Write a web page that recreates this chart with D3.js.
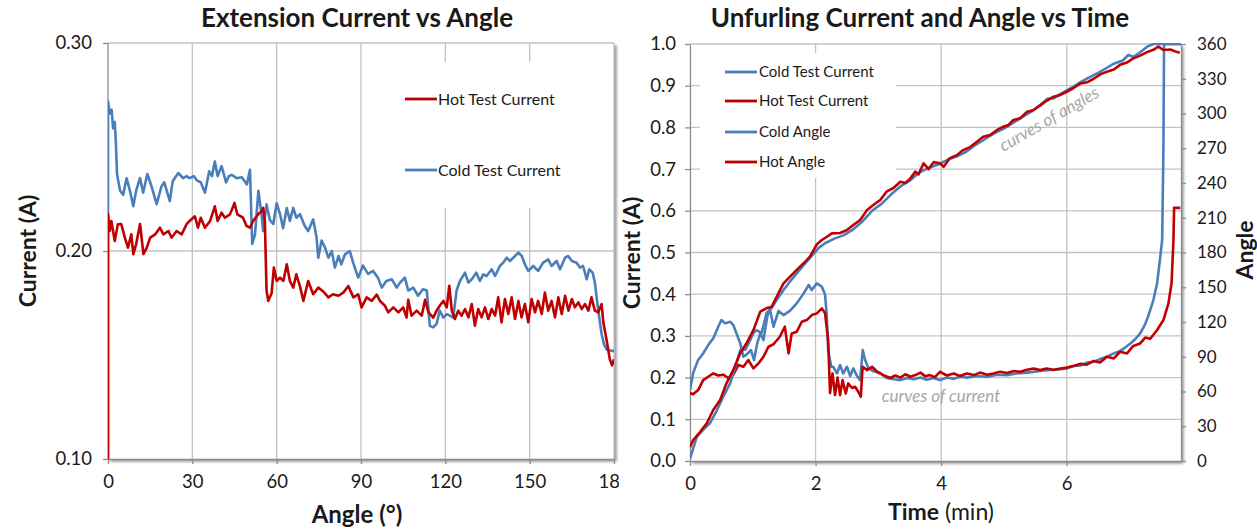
<!DOCTYPE html>
<html>
<head>
<meta charset="utf-8">
<script src="https://cdn.jsdelivr.net/npm/d3@7"></script>
<style>
body{margin:0;background:#fff;}
svg{font-family:Lato,"Open Sans",sans-serif;}
</style>
</head>
<body>
<svg width="1257" height="529"></svg>
<script>
// ---- left chart: extension current vs angle  [angle (deg), current (A)]
var extCold=[[0,0.100],[0,0.272],[0.6,0.266],[1.3,0.268],[1.8,0.259],[2.4,0.262],[2.8,0.252],[3.2,0.237],[4.3,0.229],[5.4,0.227],[6.6,0.235],[7.8,0.229],[9,0.2215],[10,0.229],[11.4,0.235],[12.5,0.228],[14,0.237],[15.5,0.231],[17.3,0.2225],[19,0.231],[20,0.233],[22,0.224],[23,0.2335],[25,0.2375],[26.7,0.235],[28,0.236],[29,0.235],[30.5,0.236],[31.6,0.234],[33,0.233],[34.5,0.228],[36,0.2383],[37,0.236],[38,0.243],[39,0.236],[40.4,0.2408],[42,0.233],[43,0.236],[44,0.2366],[45.8,0.235],[47.6,0.2355],[49.4,0.232],[50.5,0.239],[51.3,0.2034],[52.3,0.208],[53.5,0.229],[54.6,0.2177],[55.2,0.2096],[56.4,0.2225],[57.6,0.2148],[58.8,0.213],[60,0.223],[61.2,0.2177],[62.3,0.211],[63.6,0.2207],[64.7,0.2145],[65.9,0.2207],[67,0.216],[68.3,0.2177],[70,0.212],[71.2,0.2096],[73,0.2152],[74.2,0.2064],[74.8,0.1968],[76,0.205],[77.2,0.2016],[78.4,0.1968],[79.6,0.2],[80.7,0.192],[82,0.1976],[83,0.1936],[84.3,0.1984],[86,0.2],[87.2,0.1944],[89,0.1872],[90.7,0.193],[92.5,0.189],[94.3,0.1904],[96,0.1872],[97.4,0.1824],[99,0.1856],[101,0.1864],[102.7,0.1824],[103.9,0.1848],[105.6,0.1872],[106.8,0.181],[108.6,0.1824],[110.3,0.1785],[112,0.1816],[113.4,0.181],[114.5,0.164],[115.7,0.1633],[116.9,0.165],[118,0.1713],[119.3,0.168],[120.5,0.1697],[121.6,0.1689],[122.8,0.168],[124,0.181],[125.2,0.1856],[127,0.1896],[128.2,0.1848],[129.4,0.1864],[131,0.1896],[132.3,0.1856],[133.5,0.1888],[134.7,0.188],[136.5,0.1912],[137.7,0.188],[139.4,0.1928],[140.6,0.1944],[141.8,0.1968],[143,0.1952],[144.8,0.1976],[146,0.1992],[147.2,0.1976],[148.3,0.1936],[149.5,0.1904],[151.3,0.1928],[153,0.1904],[154.8,0.1944],[156.6,0.196],[157.8,0.1928],[159.6,0.1952],[160.8,0.1912],[162.6,0.1968],[163.7,0.1976],[165,0.1952],[166.7,0.1944],[167.9,0.192],[169,0.1928],[170.3,0.1864],[171.2,0.1912],[172.4,0.1896],[173.2,0.1848],[174.4,0.1713],[175.6,0.16],[176.5,0.155],[177.5,0.1525],[179,0.152],[180,0.152]];
var extHot=[[0,0.100],[0,0.218],[0.6,0.2096],[1.2,0.2144],[2.4,0.2048],[3.5,0.2128],[4.7,0.213],[6,0.2064],[7.1,0.2016],[8.3,0.208],[9,0.1985],[10,0.2032],[11.4,0.213],[12.6,0.1985],[13.8,0.2016],[15,0.2064],[16.8,0.208],[18.5,0.2112],[19.7,0.208],[21.5,0.2096],[22.6,0.2064],[24.4,0.2096],[26.2,0.208],[28,0.213],[29,0.2144],[30.9,0.2167],[32,0.2112],[33,0.216],[34.5,0.2112],[36.3,0.2144],[38,0.2215],[39,0.2144],[40.4,0.2184],[41.6,0.216],[43.4,0.2176],[45,0.2231],[46,0.2176],[48,0.216],[49.3,0.212],[50.5,0.2112],[51.6,0.2144],[53.4,0.2176],[54.6,0.2191],[55.2,0.2208],[55.8,0.2144],[56.4,0.181],[57,0.176],[58.2,0.1797],[59,0.192],[60,0.1856],[61.2,0.1872],[62.4,0.1856],[63.6,0.1936],[64.7,0.1856],[65.9,0.1824],[67,0.1888],[68.3,0.183],[69.5,0.176],[71.2,0.1856],[73,0.1792],[74.8,0.1824],[76.6,0.1805],[78.4,0.1777],[80,0.1792],[82,0.1785],[83.7,0.18],[85.5,0.1832],[87.3,0.1777],[89,0.1792],[90.2,0.1729],[92,0.1777],[93.8,0.176],[95.6,0.179],[96.7,0.1761],[98.5,0.1737],[99.7,0.1705],[101.5,0.1729],[103.3,0.1705],[105,0.1729],[106.2,0.168],[106.8,0.1765],[108,0.1689],[109.8,0.1713],[111.6,0.1689],[112.8,0.1765],[114,0.1705],[115.7,0.168],[116.9,0.1713],[118,0.1737],[119.3,0.176],[120.5,0.1729],[121.4,0.1833],[122.3,0.1713],[123.4,0.1673],[124.6,0.1713],[125.8,0.1689],[127,0.1721],[128.2,0.1681],[129.4,0.1745],[130.5,0.1641],[131.7,0.1721],[132.9,0.1681],[134.1,0.1729],[135.3,0.1673],[136.5,0.1721],[137.7,0.1689],[138.8,0.1777],[140,0.1657],[141.2,0.1769],[142.4,0.1697],[143.6,0.1777],[144.8,0.1673],[146,0.176],[147.1,0.1681],[148.3,0.1745],[149.5,0.1657],[150.7,0.1769],[151.9,0.1705],[153,0.176],[154.3,0.1697],[155.4,0.18],[156.6,0.1713],[157.8,0.176],[159,0.1681],[160.2,0.1777],[161.4,0.1697],[162.6,0.1785],[163.8,0.1713],[165,0.1769],[166.1,0.1729],[167.3,0.1753],[168.5,0.1721],[169.7,0.1745],[170.9,0.1713],[172,0.1777],[173.2,0.1713],[174.4,0.1705],[175.6,0.1745],[176.2,0.1657],[177.4,0.157],[178.5,0.148],[179.3,0.145],[180,0.148]];
var extTicksX=[0,30,60,90,120,150,180];
var extTicksY=[0.10,0.20,0.30];

// ---- right chart: unfurling current [min, A] and angle [min, deg]
var unfColdCurrent=[[0,0.17],[0.05,0.211],[0.13,0.242],[0.21,0.258],[0.29,0.278],[0.37,0.294],[0.45,0.322],[0.50,0.338],[0.56,0.33],[0.64,0.334],[0.69,0.326],[0.74,0.306],[0.80,0.282],[0.85,0.25],[0.90,0.255],[0.97,0.266],[1.02,0.242],[1.07,0.282],[1.12,0.306],[1.17,0.29],[1.23,0.346],[1.27,0.366],[1.33,0.322],[1.41,0.36],[1.49,0.35],[1.59,0.36],[1.70,0.378],[1.81,0.402],[1.89,0.422],[1.94,0.41],[2.02,0.426],[2.10,0.418],[2.15,0.40],[2.18,0.346],[2.20,0.266],[2.25,0.226],[2.28,0.226],[2.34,0.21],[2.39,0.23],[2.44,0.21],[2.50,0.226],[2.55,0.204],[2.60,0.222],[2.66,0.204],[2.71,0.194],[2.75,0.266],[2.79,0.242],[2.84,0.223],[2.92,0.215],[3.03,0.211],[3.13,0.199],[3.25,0.196],[3.35,0.194],[3.46,0.199],[3.56,0.196],[3.67,0.2],[3.77,0.195],[3.88,0.199],[3.98,0.194],[4.1,0.2],[4.20,0.197],[4.3,0.202],[4.41,0.2],[4.57,0.204],[4.73,0.202],[4.9,0.207],[5.05,0.206],[5.2,0.21],[5.37,0.212],[5.52,0.215],[5.68,0.218],[5.84,0.219],[6.0,0.222],[6.1,0.228],[6.22,0.229],[6.32,0.236],[6.43,0.238],[6.54,0.245],[6.64,0.25],[6.75,0.258],[6.85,0.264],[6.93,0.272],[7.01,0.281],[7.09,0.292],[7.17,0.306],[7.24,0.325],[7.30,0.348],[7.38,0.386],[7.44,0.427],[7.49,0.49],[7.52,0.53],[7.54,0.75],[7.55,1.0],[7.82,1.0]];
var unfHotCurrent=[[0,0.163],[0.05,0.16],[0.13,0.17],[0.21,0.194],[0.29,0.202],[0.37,0.21],[0.45,0.205],[0.53,0.207],[0.61,0.199],[0.69,0.207],[0.77,0.23],[0.85,0.226],[0.93,0.242],[1.01,0.222],[1.09,0.234],[1.17,0.25],[1.25,0.274],[1.33,0.28],[1.43,0.298],[1.51,0.322],[1.57,0.258],[1.62,0.306],[1.70,0.31],[1.78,0.334],[1.86,0.338],[1.94,0.35],[2.02,0.354],[2.10,0.366],[2.15,0.355],[2.20,0.29],[2.23,0.163],[2.27,0.21],[2.31,0.158],[2.35,0.2],[2.39,0.158],[2.43,0.194],[2.48,0.162],[2.52,0.186],[2.58,0.175],[2.63,0.178],[2.68,0.166],[2.72,0.154],[2.75,0.226],[2.82,0.218],[2.90,0.226],[2.98,0.214],[3.08,0.206],[3.19,0.199],[3.27,0.205],[3.35,0.2],[3.43,0.208],[3.51,0.202],[3.59,0.206],[3.67,0.212],[3.75,0.203],[3.82,0.206],[3.9,0.201],[3.98,0.214],[4.09,0.205],[4.2,0.21],[4.3,0.204],[4.41,0.21],[4.52,0.206],[4.62,0.212],[4.73,0.207],[4.83,0.21],[4.94,0.214],[5.05,0.211],[5.16,0.216],[5.26,0.214],[5.37,0.219],[5.47,0.222],[5.58,0.218],[5.68,0.222],[5.79,0.219],[5.90,0.222],[6.0,0.224],[6.11,0.228],[6.22,0.233],[6.32,0.231],[6.43,0.24],[6.53,0.236],[6.64,0.25],[6.75,0.246],[6.85,0.262],[6.96,0.258],[7.06,0.276],[7.17,0.282],[7.25,0.296],[7.33,0.293],[7.44,0.314],[7.54,0.338],[7.62,0.378],[7.67,0.427],[7.70,0.53],[7.71,0.607],[7.81,0.607]];
var unfColdAngle=[[0,2],[0.11,21],[0.21,26.8],[0.32,32.8],[0.43,44],[0.53,55.5],[0.64,67],[0.74,84.5],[0.80,95.8],[0.88,96],[0.96,104.5],[1.01,110.5],[1.06,113],[1.14,110.5],[1.22,127.8],[1.30,132],[1.38,139],[1.49,147.6],[1.59,154.8],[1.70,162],[1.81,169],[1.97,179],[2.05,184],[2.15,188],[2.3,192],[2.45,195],[2.6,200],[2.75,207],[2.9,216],[3.05,222],[3.2,230],[3.35,237],[3.5,242],[3.65,249],[3.8,253],[3.95,256],[4.1,260],[4.25,263],[4.4,267],[4.55,273],[4.7,278],[4.85,283],[5.0,287],[5.15,292],[5.3,297],[5.45,302],[5.58,307.5],[5.7,313],[5.79,313],[5.9,317],[6.0,320],[6.1,323],[6.22,327],[6.35,331],[6.5,335],[6.64,339.5],[6.75,343],[6.9,346],[6.98,350.5],[7.06,349],[7.15,352],[7.28,357.7],[7.38,360],[7.82,360]];
var unfHotAngle=[[0,12],[0.05,18],[0.16,25],[0.27,32.8],[0.37,44],[0.48,52.7],[0.58,67],[0.69,78.6],[0.80,93],[0.90,101.6],[1.01,113],[1.12,129],[1.22,132],[1.30,133],[1.38,141.8],[1.49,153.4],[1.59,159],[1.70,165],[1.81,170.7],[1.91,176.4],[2.02,187],[2.10,190.8],[2.18,193.6],[2.26,196.5],[2.39,196.8],[2.50,199.4],[2.60,203.7],[2.71,208],[2.82,216.7],[2.92,221],[3.03,225.3],[3.13,232.5],[3.24,235.7],[3.35,241],[3.43,240],[3.51,244],[3.59,249.8],[3.64,247.5],[3.67,251],[3.72,257],[3.80,252],[3.88,258],[3.98,257],[4.04,254],[4.14,261.5],[4.25,264],[4.35,268.4],[4.46,271],[4.57,275.6],[4.67,280],[4.78,281.4],[4.89,285.8],[4.99,288.6],[5.07,290],[5.15,294.4],[5.26,296],[5.37,301.6],[5.47,303],[5.58,307],[5.68,311],[5.79,314.5],[5.9,316],[6.0,318.8],[6.11,322],[6.22,326],[6.33,327],[6.43,330],[6.54,334],[6.64,336],[6.75,338],[6.85,342],[6.96,344],[7.06,347.6],[7.17,350],[7.28,353],[7.38,355],[7.46,357.7],[7.54,354.8],[7.65,355.2],[7.76,353],[7.80,352.5]];
var unfTicksX=[0,2,4,6];
var unfTicksY=[0,0.1,0.2,0.3,0.4,0.5,0.6,0.7,0.8,0.9,1.0];
var unfTicksA=[0,30,60,90,120,150,180,210,240,270,300,330,360];

var BLUE='#4a7ebb', RED='#c00000', GRID='#c3c3c3', AXIS='#8c8c8c', TXT='#1a1a1a';

var svg=d3.select('svg');
var defs=svg.append('defs');
var f=defs.append('filter').attr('id','shadow').attr('x','-5%').attr('y','-5%').attr('width','110%').attr('height','110%');
f.append('feDropShadow').attr('dx',2.5).attr('dy',2.5).attr('stdDeviation',1.5).attr('flood-color','#000').attr('flood-opacity',0.45);
defs.append('clipPath').attr('id','leftclip').append('rect').attr('x',0).attr('y',0).attr('width',619).attr('height',529);
defs.append('clipPath').attr('id','lplot').append('rect').attr('x',108).attr('y',43).attr('width',506).attr('height',416);
defs.append('clipPath').attr('id','rplot').append('rect').attr('x',690).attr('y',43).attr('width',491).attr('height',418);

function styleAxis(g,size){
  g.select('.domain').attr('stroke',AXIS).attr('stroke-width',1.3);
  g.selectAll('.tick line').attr('stroke',AXIS).attr('stroke-width',1.3);
  g.selectAll('.tick text').attr('fill',TXT).style('font-size',size+'px').style('font-family','Lato,"Open Sans",sans-serif');
}
function addLine(g,data,x,y,color){
  g.append('path').datum(data)
    .attr('d',d3.line().x(function(d){return x(d[0]);}).y(function(d){return y(d[1]);}))
    .attr('fill','none').attr('stroke',color).attr('stroke-width',2.6)
    .attr('stroke-linejoin','round');
}

// ================= left chart =================
var left=svg.append('g').attr('clip-path','url(#leftclip)');
var xL=d3.scaleLinear().domain([0,180]).range([108,614]);
var yL=d3.scaleLinear().domain([0.10,0.30]).range([459,43]);

left.append('rect').attr('x',108).attr('y',43).attr('width',506).attr('height',416)
  .attr('fill','#fff').attr('filter','url(#shadow)');
left.append('g').selectAll('line').data(extTicksX.slice(1)).enter().append('line')
  .attr('x1',function(d){return xL(d);}).attr('x2',function(d){return xL(d);})
  .attr('y1',43).attr('y2',459).attr('stroke',GRID).attr('stroke-width',1.3);
left.append('g').selectAll('line').data(extTicksY.slice(1)).enter().append('line')
  .attr('x1',108).attr('x2',614)
  .attr('y1',function(d){return yL(d);}).attr('y2',function(d){return yL(d);})
  .attr('stroke',GRID).attr('stroke-width',1.3);

// legend box hides gridlines
left.append('rect').attr('x',393).attr('y',62).attr('width',212).attr('height',146).attr('fill','#fff');

var lax=left.append('g').attr('transform','translate(0,459)')
  .call(d3.axisBottom(xL).tickValues(extTicksX).tickFormat(d3.format('d')).tickSize(5).tickSizeOuter(0).tickPadding(11));
styleAxis(lax,18.5);
var lay=left.append('g').attr('transform','translate(108,0)')
  .call(d3.axisLeft(yL).tickValues(extTicksY).tickFormat(d3.format('.2f')).tickSize(5).tickSizeOuter(0).tickPadding(11));
styleAxis(lay,18.5);
lay.select('.domain').remove();
left.append('line').attr('x1',108).attr('x2',108).attr('y1',43).attr('y2',459).attr('stroke',AXIS).attr('stroke-width',1.3);

var lplot=left.append('g').attr('clip-path','url(#lplot)');
addLine(lplot,extCold,xL,yL,BLUE);
addLine(lplot,extHot,xL,yL,RED);

var lleg=left.append('g');
[['Hot Test Current',RED,99],['Cold Test Current',BLUE,170]].forEach(function(it){
  lleg.append('line').attr('x1',405).attr('x2',437).attr('y1',it[2]).attr('y2',it[2]).attr('stroke',it[1]).attr('stroke-width',2.8);
  lleg.append('text').attr('x',438).attr('y',it[2]).attr('dy','0.35em').attr('fill',TXT).style('font-size','16px').text(it[0]);
});

left.append('text').attr('x',357).attr('y',27).attr('text-anchor','middle').attr('fill',TXT)
  .style('font-size','26px').style('font-weight','bold').text('Extension Current vs Angle');
left.append('text').attr('x',357).attr('y',523).attr('text-anchor','middle').attr('fill',TXT)
  .style('font-size','24px').style('font-weight','bold').text('Angle (°)');
left.append('text').attr('transform','translate(28,251) rotate(-90)').attr('text-anchor','middle').attr('dy','0.35em').attr('fill',TXT)
  .style('font-size','23px').style('font-weight','bold').text('Current (A)');

// ================= right chart =================
var right=svg.append('g');
var xR=d3.scaleLinear().domain([0,7.82]).range([690,1181]);
var yR=d3.scaleLinear().domain([0,1]).range([461,44]);
var yA=d3.scaleLinear().domain([0,360]).range([461,44]);

right.append('rect').attr('x',690).attr('y',44).attr('width',491).attr('height',417)
  .attr('fill','#fff').attr('filter','url(#shadow)');
right.append('g').selectAll('line').data(unfTicksX.slice(1)).enter().append('line')
  .attr('x1',function(d){return xR(d);}).attr('x2',function(d){return xR(d);})
  .attr('y1',44).attr('y2',461).attr('stroke',GRID).attr('stroke-width',1.3);
right.append('g').selectAll('line').data(unfTicksY.slice(1)).enter().append('line')
  .attr('x1',690).attr('x2',1181)
  .attr('y1',function(d){return yR(d);}).attr('y2',function(d){return yR(d);})
  .attr('stroke',GRID).attr('stroke-width',1.3);

right.append('rect').attr('x',700).attr('y',53).attr('width',196).attr('height',125).attr('fill','#fff');

var rax=right.append('g').attr('transform','translate(0,461)')
  .call(d3.axisBottom(xR).tickValues(unfTicksX).tickFormat(d3.format('d')).tickSize(5).tickSizeOuter(0).tickPadding(11));
styleAxis(rax,18.5);
var ray=right.append('g').attr('transform','translate(690,0)')
  .call(d3.axisLeft(yR).tickValues(unfTicksY).tickFormat(d3.format('.1f')).tickSize(5).tickSizeOuter(0).tickPadding(9));
styleAxis(ray,18.5);
var raa=right.append('g').attr('transform','translate(1181,0)')
  .call(d3.axisRight(yA).tickValues(unfTicksA).tickFormat(d3.format('d')).tickSize(5).tickSizeOuter(0).tickPadding(11));
styleAxis(raa,17);

var rplot=right.append('g').attr('clip-path','url(#rplot)');
addLine(rplot,unfColdCurrent,xR,yR,BLUE);
addLine(rplot,unfHotCurrent,xR,yR,RED);
addLine(rplot,unfColdAngle,xR,yA,BLUE);
addLine(rplot,unfHotAngle,xR,yA,RED);

var rleg=right.append('g');
[['Cold Test Current',BLUE,72],['Hot Test Current',RED,101],['Cold Angle',BLUE,132],['Hot Angle',RED,162]].forEach(function(it){
  rleg.append('line').attr('x1',725).attr('x2',757).attr('y1',it[2]).attr('y2',it[2]).attr('stroke',it[1]).attr('stroke-width',2.8);
  rleg.append('text').attr('x',759).attr('y',it[2]).attr('dy','0.35em').attr('fill',TXT).style('font-size','15px').text(it[0]);
});

right.append('text').attr('transform','translate(1052,124) rotate(-30)').attr('text-anchor','middle')
  .attr('fill','#a6a6a6').style('font-size','17px').style('font-style','italic').text('curves of angles');
right.append('text').attr('x',941).attr('y',402).attr('text-anchor','middle')
  .attr('fill','#a6a6a6').style('font-size','17px').style('font-style','italic').text('curves of current');

right.append('text').attr('x',920).attr('y',27).attr('text-anchor','middle').attr('fill',TXT)
  .style('font-size','26px').style('font-weight','bold').text('Unfurling Current and Angle vs Time');
var tl=right.append('text').attr('x',941).attr('y',520).attr('text-anchor','middle').attr('fill',TXT).style('font-size','23px');
tl.append('tspan').style('font-weight','bold').text('Time');
tl.append('tspan').text(' (min)');
right.append('text').attr('transform','translate(632,253) rotate(-90)').attr('text-anchor','middle').attr('dy','0.35em').attr('fill',TXT)
  .style('font-size','23px').style('font-weight','bold').text('Current (A)');
right.append('text').attr('transform','translate(1245,250) rotate(-90)').attr('text-anchor','middle').attr('dy','0.35em').attr('fill',TXT)
  .style('font-size','23px').style('font-weight','bold').text('Angle');
</script>
</body>
</html>
